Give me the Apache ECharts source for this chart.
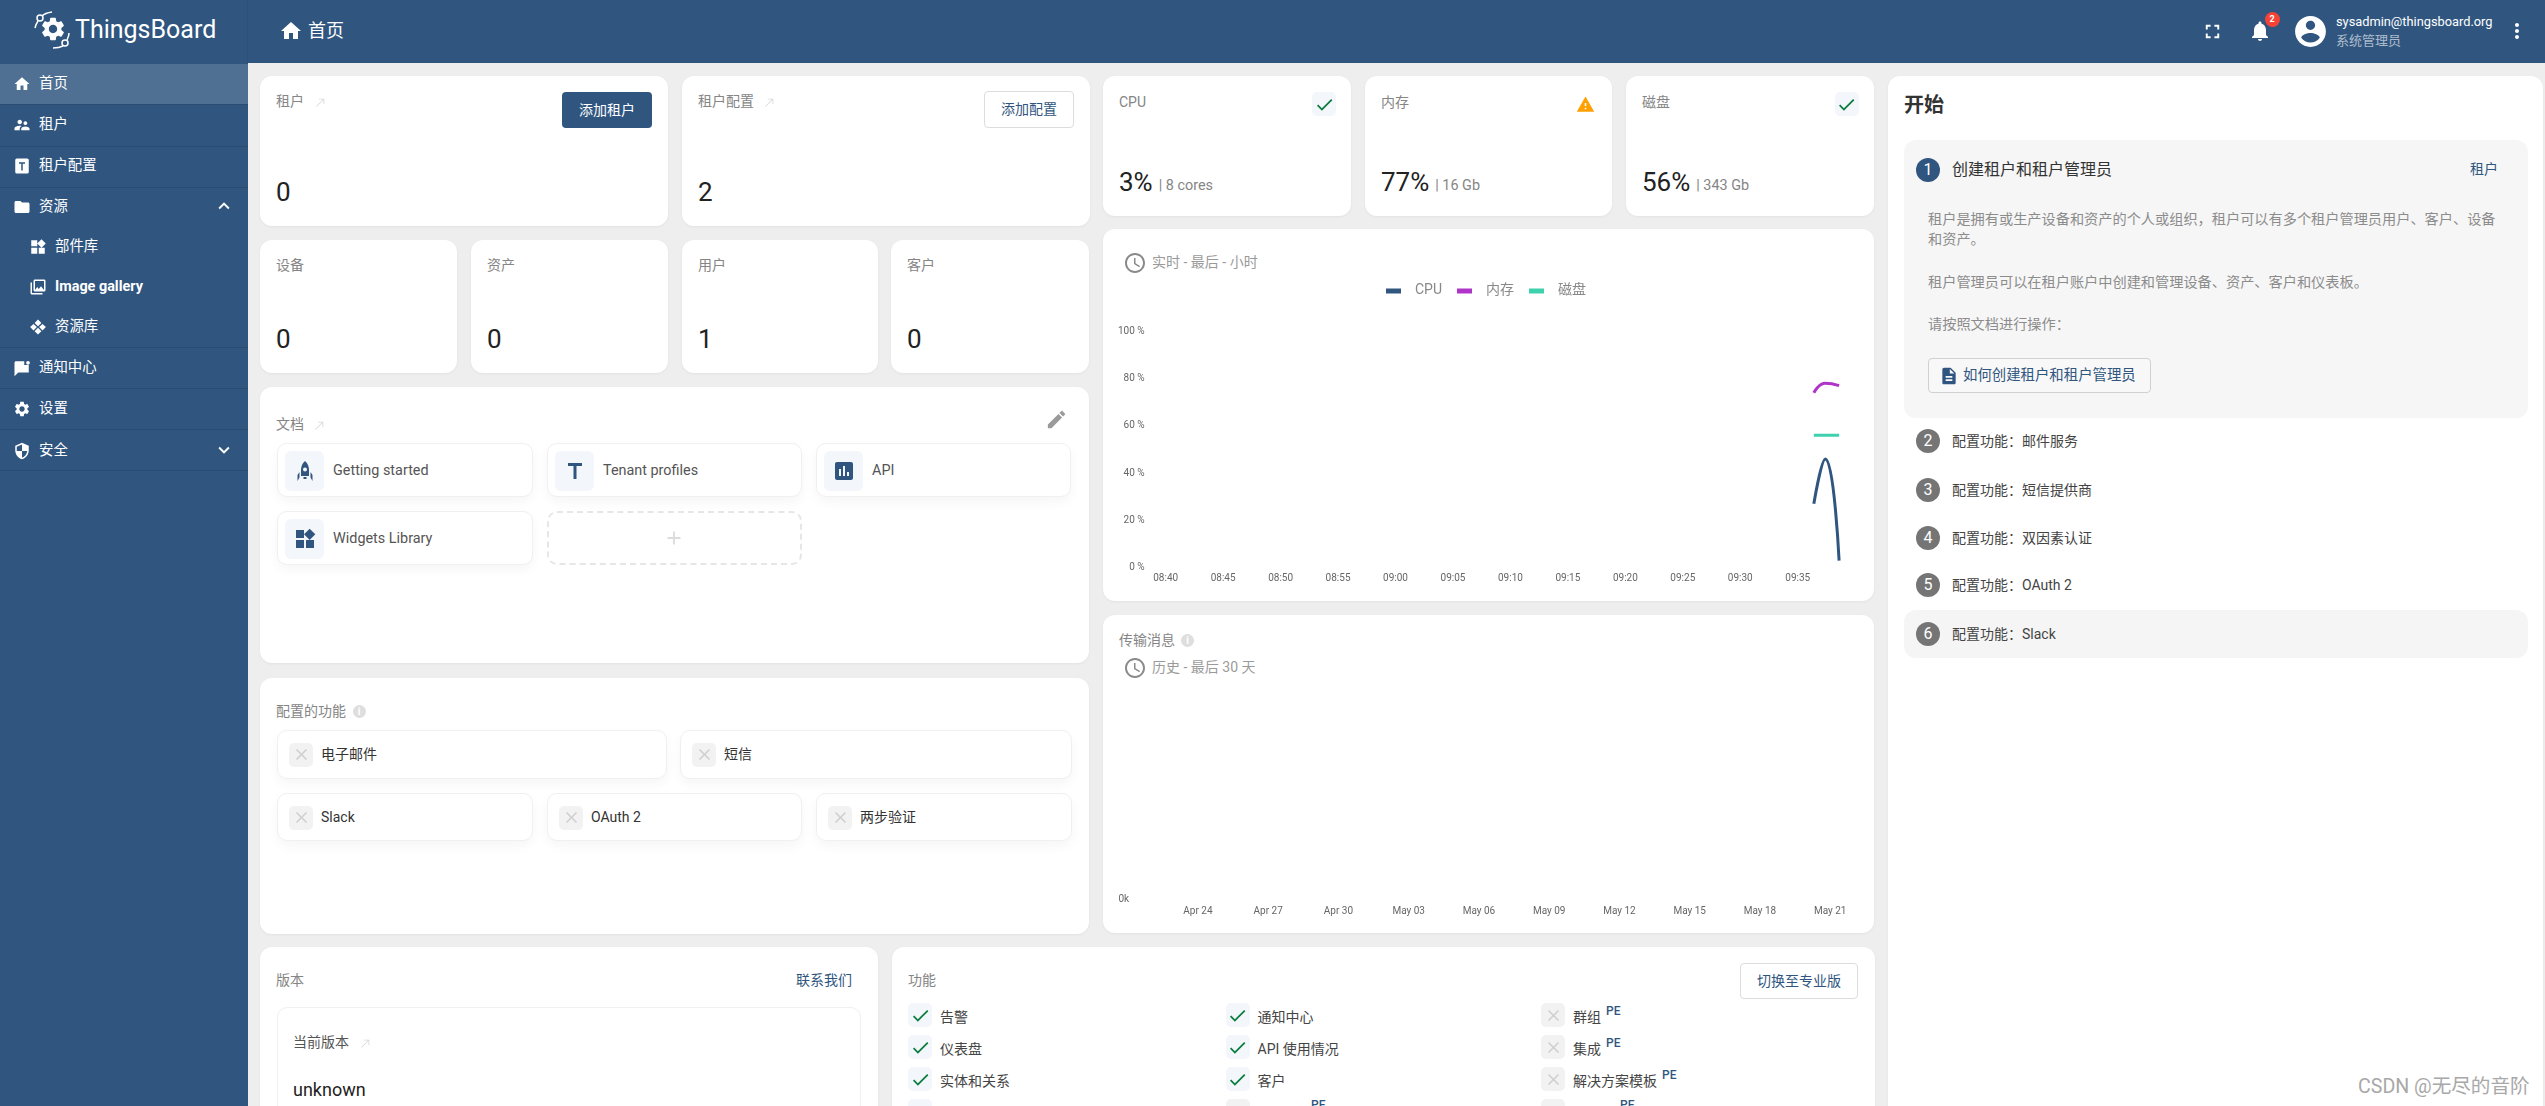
<!DOCTYPE html>
<html lang="zh">
<head>
    <meta charset="UTF-8">
    <title>ThingsBoard</title>
    <script src="https://cdn.jsdelivr.net/npm/echarts@6/dist/echarts.min.js"></script>
    <style>
        html, body { margin: 0; padding: 0; width: 2545px; height: 1106px; overflow: hidden; background: #eeeeee; }
        body { position: relative; font-family: Roboto, "Noto Sans CJK SC", sans-serif; font-size: 14px; color: #444; }
        .abs { position: absolute; box-sizing: border-box; }
        .txt { position: absolute; white-space: nowrap; transform: translateY(-50%); line-height: 1.2; }
        .card { background: #fff; border-radius: 12px; box-shadow: 0 1px 3px rgba(0,0,0,.05); }
        .link { background: #fff; border: 1px solid #f0f0f0; border-radius: 10px; box-shadow: 0 5px 12px rgba(0,0,0,.04); }
        svg { position: absolute; display: block; }
        #cpuChart, #msgChart { position: absolute; }
    </style>
</head>
<body>
<div id="page"></div>
<div id="cpuChart" style="left:1103px;top:229px;width:770.5px;height:372px;z-index:5"></div>
<div id="msgChart" style="left:1103px;top:615px;width:770.5px;height:318px;z-index:5"></div>

<script>
    // 系统资源折线图数据（最后一小时）
    var sampleTimes = ['09:36:24', '09:37:24', '09:38:36'];
    var cpuValues = [27, 46, 3];
    var memoryValues = [74, 78, 77];
    var diskValues = [56, 56, 56];
    var hourTickLabels = ['08:40', '08:45', '08:50', '08:55', '09:00', '09:05', '09:10', '09:15', '09:20', '09:25', '09:30', '09:35'];
    var percentTicks = [0, 20, 40, 60, 80, 100];

    // 传输消息（最后 30 天，图上没有数据）
    var messageValues = [];
    var dayTickDates = ['2024-04-24', '2024-04-27', '2024-04-30', '2024-05-03', '2024-05-06', '2024-05-09', '2024-05-12', '2024-05-15', '2024-05-18', '2024-05-21'];
    var dayTickLabels = ['Apr 24', 'Apr 27', 'Apr 30', 'May 03', 'May 06', 'May 09', 'May 12', 'May 15', 'May 18', 'May 21'];

    var PRIMARY = '#305680';
    var GREY = '#858585';
    var page = document.getElementById('page');

    var ICONS = {
        home: 'M10 20v-6h4v6h5v-8h3L12 3 2 12h3v8z',
        tenants: 'M16.5 12c1.38 0 2.49-1.12 2.49-2.5S17.88 7 16.5 7 14 8.12 14 9.5s1.12 2.5 2.5 2.5zM9 11c1.66 0 2.99-1.34 2.99-3S10.66 5 9 5 6 6.34 6 8s1.34 3 3 3zm7.5 3c-1.83 0-5.5.92-5.5 2.75V19h11v-2.25c0-1.83-3.67-2.75-5.5-2.75zM9 13c-2.33 0-7 1.17-7 3.5V19h7v-2.25c0-.85.33-2.34 2.37-3.47C10.5 13.1 9.66 13 9 13z',
        profile: 'M5 2h14a2 2 0 012 2v16a2 2 0 01-2 2H5a2 2 0 01-2-2V4a2 2 0 012-2zm3 5v2h3v9h2V9h3V7z',
        folder: 'M10 4H4c-1.1 0-1.99.9-1.99 2L2 18c0 1.1.9 2 2 2h16c1.1 0 2-.9 2-2V8c0-1.1-.9-2-2-2h-8l-2-2z',
        widgets: 'M13 13v8h8v-8h-8zM3 21h8v-8H3v8zM3 3v8h8V3H3zm13.66-1.31L11 7.34 16.66 13l5.66-5.66-5.66-5.65z',
        gallery: 'M22 16V4c0-1.1-.9-2-2-2H8c-1.1 0-2 .9-2 2v12c0 1.1.9 2 2 2h12c1.1 0 2-.9 2-2zm-2 0H8V4h12v12zm-9-4l2.03 2.71L16 11l4 5H8l3-4zM2 6v14c0 1.1.9 2 2 2h14v-2H4V6H2z',
        resources: 'M12 2l4.5 4.5L12 11 7.5 6.500zM6 8l4.500 4-4.500 4.500L1.500 12zM18 8l4.500 4-4.500 4.500-4.500-4.500zM12 13l4.500 4.500L12 22l-4.500-4.500z',
        notify: 'M4 3h11v5h6v10H7l-5 5V5c0-1.100.9-2 2-2zM20 2.500a2.500 2.500 0 110 5 2.500 2.500 0 010-5z',
        settings: 'M19.14 12.94c.04-.3.06-.61.06-.94 0-.32-.02-.64-.07-.94l2.03-1.58c.18-.14.23-.41.12-.61l-1.92-3.32c-.12-.22-.37-.29-.59-.22l-2.39.96c-.5-.38-1.03-.7-1.62-.94l-.36-2.54c-.04-.24-.24-.41-.48-.41h-3.84c-.24 0-.43.17-.47.41l-.36 2.54c-.59.24-1.13.57-1.62.94l-2.39-.96c-.22-.08-.47 0-.59.22L2.74 8.87c-.12.21-.08.47.12.61l2.03 1.58c-.05.3-.09.63-.09.94s.02.64.07.94l-2.03 1.58c-.18.14-.23.41-.12.61l1.92 3.32c.12.22.37.29.59.22l2.39-.96c.5.38 1.03.7 1.62.94l.36 2.54c.05.24.24.41.48.41h3.84c.24 0 .44-.17.47-.41l.36-2.54c.59-.24 1.13-.56 1.62-.94l2.39.96c.22.08.47 0 .59-.22l1.92-3.32c.12-.22.07-.47-.12-.61l-2.01-1.58zM12 15.6c-1.98 0-3.6-1.62-3.6-3.6s1.62-3.6 3.6-3.6 3.6 1.62 3.6 3.6-1.62 3.6-3.6 3.6z',
        shield: 'M12 1L3 5v6c0 5.55 3.84 10.74 9 12 5.16-1.26 9-6.45 9-12V5l-9-4zm0 10.99h7c-.53 4.12-3.28 7.79-7 8.94V12H5V6.3l7-3.11v8.8z',
        up: 'M7.41 15.41L12 10.83l4.59 4.58L18 14l-6-6-6 6z',
        down: 'M7.41 8.59L12 13.17l4.59-4.58L18 10l-6 6-6-6z',
        check: 'M9 16.17L4.83 12l-1.42 1.41L9 19 21 7l-1.41-1.41z',
        warning: 'M1 21h22L12 2 1 21zm12-3h-2v-2h2v2zm0-4h-2v-4h2v4z',
        close: 'M19 6.41L17.59 5 12 10.59 6.41 5 5 6.41 10.59 12 5 17.59 6.41 19 12 13.41 17.59 19 19 17.59 13.41 12z',
        clock: 'M11.99 2C6.47 2 2 6.48 2 12s4.47 10 9.99 10C17.52 22 22 17.52 22 12S17.52 2 11.99 2zM12 20c-4.42 0-8-3.58-8-8s3.58-8 8-8 8 3.58 8 8-3.58 8-8 8zm.5-13H11v6l5.25 3.15.75-1.23-4.5-2.67z',
        fullscreen: 'M7 14H5v5h5v-2H7v-3zm-2-4h2V7h3V5H5v5zm12 7h-3v2h5v-5h-2v3zM14 5v2h3v3h2V5h-5z',
        bell: 'M12 22c1.1 0 2-.9 2-2h-4c0 1.1.89 2 2 2zm6-6v-5c0-3.07-1.64-5.64-4.5-6.32V4c0-.83-.67-1.5-1.5-1.5s-1.5.67-1.5 1.5v.68C7.63 5.36 6 7.92 6 11v5l-2 2v1h16v-1l-2-2z',
        account: 'M12 2C6.48 2 2 6.48 2 12s4.48 10 10 10 10-4.48 10-10S17.52 2 12 2zm0 3c1.66 0 3 1.34 3 3s-1.34 3-3 3-3-1.34-3-3 1.34-3 3-3zm0 14.2c-2.5 0-4.71-1.28-6-3.22.03-1.99 4-3.08 6-3.08 1.99 0 5.97 1.09 6 3.08-1.29 1.94-3.5 3.22-6 3.22z',
        more: 'M12 8c1.1 0 2-.9 2-2s-.9-2-2-2-2 .9-2 2 .9 2 2 2zm0 2c-1.1 0-2 .9-2 2s.9 2 2 2 2-.9 2-2-.9-2-2-2zm0 6c-1.1 0-2 .9-2 2s.9 2 2 2 2-.9 2-2-.9-2-2-2z',
        edit: 'M3 17.25V21h3.75L17.81 9.94l-3.75-3.75L3 17.25zM20.71 7.04c.39-.39.39-1.02 0-1.41l-2.34-2.34c-.39-.39-1.02-.39-1.41 0l-1.83 1.83 3.75 3.75 1.83-1.83z',
        doc: 'M14 2H6c-1.1 0-1.99.9-1.99 2L4 20c0 1.1.89 2 1.99 2H18c1.1 0 2-.9 2-2V8l-6-6zm2 16H8v-2h8v2zm0-4H8v-2h8v2zm-3-5V3.5L18.5 9H13z',
        arrow: 'M9 5v1.500h7.440L4 18.940 5.060 20 17.500 7.560V15H19V5z',
        rocket: 'M12 2c3 2.500 4 6 4 9v6H8v-6c0-3 1-6.500 4-9zm0 6.500a2 2 0 100 4 2 2 0 000-4zM6.500 13v5.500L4.500 22v-6zM17.500 13v5.500l2 3.500v-6zM10.500 18h3v2h-3z',
        chart: 'M19 3H5c-1.1 0-2 .9-2 2v14c0 1.1.9 2 2 2h14c1.1 0 2-.9 2-2V5c0-1.1-.9-2-2-2zM9 17H7v-7h2v7zm4 0h-2V7h2v10zm4 0h-2v-4h2v4z',
        letterT: 'M5 4v3h5.500v13h3V7H19V4z',
        plus: 'M19 13h-6v6h-2v-6H5v-2h6V5h2v6h6v2z'
    };

    function box(x, y, w, h, css, cls) {
        var d = document.createElement('div');
        d.className = 'abs ' + (cls || '');
        d.style.cssText = 'left:' + x + 'px;top:' + y + 'px;width:' + w + 'px;height:' + h + 'px;' + (css || '');
        page.appendChild(d);
        return d;
    }
    function text(x, cy, str, css) {
        var d = document.createElement('div');
        d.className = 'txt';
        d.style.cssText = 'left:' + x + 'px;top:' + cy + 'px;' + (css || '');
        d.textContent = str;
        page.appendChild(d);
        return d;
    }
    function icon(cx, cy, size, name, color) {
        var s = document.createElementNS('http://www.w3.org/2000/svg', 'svg');
        s.setAttribute('viewBox', '0 0 24 24');
        s.setAttribute('width', size);
        s.setAttribute('height', size);
        s.style.left = (cx - size / 2) + 'px';
        s.style.top = (cy - size / 2) + 'px';
        s.style.zIndex = 3;
        var p = document.createElementNS('http://www.w3.org/2000/svg', 'path');
        p.setAttribute('d', ICONS[name]);
        p.setAttribute('fill', color);
        p.setAttribute('fill-rule', 'evenodd');
        s.appendChild(p);
        page.appendChild(s);
    }
    function button(x, y, w, h, label, filled) {
        var b = box(x, y, w, h, 'border-radius:4px;text-align:center;line-height:' + (h - (filled ? 0 : 2)) + 'px;' +
            (filled ? 'background:' + PRIMARY + ';color:#fff;' : 'background:#fff;border:1px solid #ddd;color:' + PRIMARY + ';'));
        b.textContent = label;
    }
    function infoBadge(cx, cy) {
        var b = box(cx - 6.500, cy - 6.500, 13, 13, 'border-radius:50%;background:#dedede;color:#fff;font-size:10px;line-height:13px;text-align:center;font-weight:700');
        b.textContent = 'i';
    }
    function tile(x, y, w, h, name, ok) {
        box(x, y, w, h, 'border-radius:5px;background:' + (ok ? '#f3f6fa' : '#f2f2f2'));
        icon(x + w / 2, y + h / 2, ok ? 21 : 19, ok ? 'check' : 'close', ok ? '#0a7d3e' : '#cfcfcf');
    }

    // 顶栏和侧边栏
    box(0, 0, 2545, 63, 'background:' + PRIMARY);
    box(0, 0, 248, 1106, 'background:' + PRIMARY);
    box(247, 0, 1, 63, 'background:rgba(0,0,0,.06)');
    icon(53, 29, 28, 'settings', '#fff');
    var logo = box(30, 8, 45, 45, '');
    logo.innerHTML = '<svg width="45" height="45" viewBox="0 0 45 45" fill="none" stroke="#fff" stroke-width="1.5" style="left:0;top:0">' +
        '<circle cx="10" cy="10" r="3"/><path d="M22 4Q15 5 12 8M8 13Q6 16 5 20"/>' +
        '<circle cx="35" cy="35" r="3"/><path d="M23 40Q29 40 33 38M37 32Q39 28 39 25"/></svg>';
    text(75, 30, 'ThingsBoard', 'color:#fff;font-size:25px');
    icon(291, 31, 24, 'home', '#fff');
    text(308, 31, '首页', 'color:#fff;font-size:18px');
    icon(2212, 31, 23, 'fullscreen', '#fff');
    icon(2260, 31, 24, 'bell', '#fff');
    var badge = box(2264.500, 11.500, 15, 15, 'border-radius:50%;background:#f44336;color:#fff;font-size:9px;font-weight:700;text-align:center;line-height:15px');
    badge.textContent = '2';
    icon(2310, 31, 37, 'account', '#fff');
    text(2336, 22, 'sysadmin@thingsboard.org', 'color:#fff;font-size:12.800px');
    text(2336, 41, '系统管理员', 'color:rgba(255,255,255,.62);font-size:13px');
    icon(2517, 31, 24, 'more', '#fff');

    box(0, 64, 248, 40, 'background:#4f7093');
    [104, 146, 187, 347, 388, 429, 470].forEach(function (y) {
        box(0, y, 248, 1, 'background:rgba(0,0,0,.1)');
    });
    [['home', '首页', 84], ['tenants', '租户', 125], ['profile', '租户配置', 166], ['folder', '资源', 207],
        ['notify', '通知中心', 368], ['settings', '设置', 409], ['shield', '安全', 451]].forEach(function (m) {
        icon(22, m[2], 18, m[0], '#fff');
        text(39, m[2], m[1], 'color:#fff;font-size:14.400px');
    });
    icon(224, 206, 22, 'up', '#fff');
    icon(224, 450, 22, 'down', '#fff');
    [['widgets', '部件库', 247, ''], ['gallery', 'Image gallery', 287, 'font-weight:700;'], ['resources', '资源库', 327, '']].forEach(function (m) {
        icon(38, m[2], 18, m[0], '#fff');
        text(55, m[2], m[1], m[3] + 'color:#fff;font-size:14.400px');
    });

    // 左列卡片
    function stat(x, y, w, h, title, value, arrow) {
        box(x, y, w, h, '', 'card');
        text(x + 16, y + 25, title, 'color:' + GREY);
        if (arrow) icon(x + 60, y + 26, 13, 'arrow', '#d8d8d8');
        text(x + 16, y + h - 33, value, 'font-size:26px;color:#222');
    }
    stat(260, 76, 408, 150, '租户', '0', true);
    stat(682, 76, 408, 150, '租户配置', '2', false);
    icon(769, 102, 13, 'arrow', '#d8d8d8');
    button(562, 92, 90, 36, '添加租户', true);
    button(984, 91, 90, 37, '添加配置', false);
    stat(260, 240, 197, 133, '设备', '0');
    stat(471, 240, 197, 133, '资产', '0');
    stat(682, 240, 196, 133, '用户', '1');
    stat(891, 240, 198, 133, '客户', '0');

    box(260, 387, 829, 276, '', 'card');
    text(276, 424, '文档', 'color:' + GREY);
    icon(319, 425, 13, 'arrow', '#d8d8d8');
    icon(1056, 419, 23, 'edit', '#9a9a9a');
    [[277, 443, 'rocket', 'Getting started'], [547, 443, 'letterT', 'Tenant profiles'], [816, 443, 'chart', 'API'], [277, 511, 'widgets', 'Widgets Library']].forEach(function (l) {
        box(l[0], l[1], l[0] === 277 ? 256 : 255, 54, '', 'link');
        box(l[0] + 8, l[1] + 8, 39, 40, 'background:#f3f6fa;border-radius:6px');
        icon(l[0] + 27.500, l[1] + 28, 24, l[2], PRIMARY);
        text(l[0] + 56, l[1] + 28, l[3], 'color:#555;font-size:14.400px');
    });
    box(547, 511, 255, 54, 'border:2px dashed #e6e6e6;border-radius:10px');
    icon(674, 538, 22, 'plus', '#dcdcdc');

    box(260, 678, 829, 256, '', 'card');
    text(276, 711, '配置的功能', 'color:' + GREY);
    infoBadge(359, 711);
    [[277, 730, 390, 49, '电子邮件'], [680, 730, 392, 49, '短信'], [277, 793, 256, 48, 'Slack'], [547, 793, 255, 48, 'OAuth 2'], [816, 793, 256, 48, '两步验证']].forEach(function (f) {
        box(f[0], f[1], f[2], f[3], '', 'link');
        tile(f[0] + 12, f[1] + 12.500, 24, 24, 'close', false);
        text(f[0] + 44, f[1] + 23.500, f[4], 'color:#333');
    });

    box(260, 947, 618, 170, '', 'card');
    text(276, 980, '版本', 'color:' + GREY);
    text(796, 980, '联系我们', 'color:' + PRIMARY);
    box(277, 1007, 584, 120, 'border:1px solid #f0f0f0;border-radius:10px');
    text(293, 1042, '当前版本', 'color:#555');
    icon(365, 1043, 13, 'arrow', '#d8d8d8');
    text(293, 1090, 'unknown', 'font-size:18px;color:#222');

    // 功能列表
    box(892, 947, 983, 170, '', 'card');
    text(908, 980, '功能', 'color:' + GREY);
    button(1740, 963, 118, 36, '切换至专业版', false);
    [[908, 1003, '告警', true], [908, 1035, '仪表盘', true], [908, 1067, '实体和关系', true],
        [1225.500, 1003, '通知中心', true], [1225.500, 1035, 'API 使用情况', true], [1225.500, 1067, '客户', true],
        [1541, 1003, '群组', false, 32], [1541, 1035, '集成', false, 32], [1541, 1067, '解决方案模板', false, 88]].forEach(function (r) {
        tile(r[0], r[1], 24, 24, 'check', r[3]);
        text(r[0] + 32, r[1] + 14, r[2], 'color:#444');
        if (r[4]) text(r[0] + 33 + r[4], r[1] + 8, 'PE', 'color:' + PRIMARY + ';font-size:12px;font-weight:500');
    });
    tile(908, 1099, 24, 24, 'check', true);
    tile(1225.500, 1099, 24, 24, 'close', false);
    tile(1541, 1099, 24, 24, 'close', false);
    text(1311, 1105, 'PE', 'color:' + PRIMARY + ';font-size:12px;font-weight:500');
    text(1620, 1105, 'PE', 'color:' + PRIMARY + ';font-size:12px;font-weight:500');

    // 中列卡片
    function gauge(x, w, title, value, unit, state) {
        box(x, 76, w, 140, '', 'card');
        text(x + 16, 102, title, 'color:' + GREY);
        var v = text(x + 16, 183, value, 'font-size:26px;color:#222');
        var vw = v.getBoundingClientRect().width;
        text(x + 16 + vw + 6, 186, unit, 'color:' + GREY + ';font-size:14.400px');
        if (state === 'ok') tile(x + w - 39, 92, 24, 24, 'check', true);
        else icon(x + w - 27, 104, 19, 'warning', '#ffa000');
    }
    gauge(1103, 248, 'CPU', '3%', '| 8 cores', 'ok');
    gauge(1365, 247, '内存', '77%', '| 16 Gb', 'warn');
    gauge(1626, 247.500, '磁盘', '56%', '| 343 Gb', 'ok');

    box(1103, 229, 770.500, 372, '', 'card');
    icon(1135, 263, 24, 'clock', '#8a8a8a');
    text(1152, 262, '实时 - 最后 - 小时', 'color:#9a9a9a');
    box(1103, 615, 770.500, 318, '', 'card');
    text(1119, 640, '传输消息', 'color:' + GREY);
    infoBadge(1187.500, 640);
    icon(1135, 668, 24, 'clock', '#8a8a8a');
    text(1152, 667, '历史 - 最后 30 天', 'color:#9a9a9a');

    // 右侧“开始”面板
    box(1888, 76, 655, 1060, '', 'card');
    text(1904, 105, '开始', 'font-size:20px;font-weight:700;color:#333');
    box(1904, 140, 624, 278, 'background:#f6f6f6;border-radius:12px');
    box(1904, 610, 624, 48, 'background:#f5f5f5;border-radius:12px');
    function step(cy, n, label, color, css) {
        var c = box(1916, cy - 12, 24, 24, 'border-radius:50%;color:#fff;text-align:center;font-size:16px;line-height:24px;background:' + color);
        c.textContent = n;
        text(1952, cy, label, css);
    }
    step(170, 1, '创建租户和租户管理员', PRIMARY, 'color:#333;font-size:16px');
    text(2470, 169, '租户', 'color:' + PRIMARY);
    text(1928, 220, '租户是拥有或生产设备和资产的个人或组织，租户可以有多个租户管理员用户、客户、设备', 'color:#8c8c8c;font-size:14.200px');
    text(1928, 240, '和资产。', 'color:#8c8c8c;font-size:14.200px');
    text(1928, 283, '租户管理员可以在租户账户中创建和管理设备、资产、客户和仪表板。', 'color:#8c8c8c;font-size:14.200px');
    text(1928, 325, '请按照文档进行操作：', 'color:#8c8c8c;font-size:14.200px');
    box(1928, 358, 223, 35, 'background:#f8f8f8;border:1px solid #d0d0d0;border-radius:4px');
    icon(1949, 376, 20, 'doc', PRIMARY);
    text(1963, 376, '如何创建租户和租户管理员', 'color:' + PRIMARY + ';font-size:14.400px');
    step(441, 2, '配置功能：邮件服务', '#757575', 'color:#444');
    step(490, 3, '配置功能：短信提供商', '#757575', 'color:#444');
    step(537.500, 4, '配置功能：双因素认证', '#757575', 'color:#444');
    step(585, 5, '配置功能：OAuth 2', '#757575', 'color:#444');
    step(633.500, 6, '配置功能：Slack', '#757575', 'color:#444');

    text(2358, 1087, 'CSDN @无尽的音阶', 'color:#a8a8a8;font-size:19.600px;z-index:9');

    // 最后一小时图表
    function hourTime(label) {
        return new Date('2024-05-22T' + (label.length === 5 ? label + ':00' : label)).getTime();
    }
    var hourTicks = hourTickLabels.map(hourTime);
    var sampleMs = sampleTimes.map(hourTime);
    function pairs(values) {
        return values.map(function (v, i) { return [sampleMs[i], v]; });
    }
    var tickStyle = { fontFamily: 'Roboto, "Noto Sans CJK SC", sans-serif', fontSize: 10, color: '#666' };

    var cpuChart = echarts.init(document.getElementById('cpuChart'));
    cpuChart.setOption({
        animation: false,
        legend: {
            left: 278, top: 50, icon: 'rect', itemWidth: 15, itemHeight: 5, itemGap: 15,
            textStyle: { fontFamily: tickStyle.fontFamily, fontSize: 14, color: '#888', padding: [0, 0, 0, 9] }
        },
        grid: { left: 46.6, right: 34.9, top: 102.3, bottom: 33.3 },
        xAxis: {
            type: 'value',
            min: hourTime('08:38:36'),
            max: hourTime('09:38:36'),
            axisLine: { show: false },
            axisTick: { show: false },
            splitLine: { show: false },
            axisLabel: Object.assign({}, tickStyle, {
                margin: 6,
                customValues: hourTicks,
                hideOverlap: false,
                formatter: function (value) {
                    return hourTickLabels[hourTicks.indexOf(value)];
                }
            })
        },
        yAxis: {
            type: 'value',
            min: percentTicks[0],
            max: percentTicks[percentTicks.length - 1],
            interval: percentTicks[1] - percentTicks[0],
            axisLine: { show: false },
            axisTick: { show: false },
            splitLine: { show: false },
            axisLabel: Object.assign({}, tickStyle, { margin: 5, formatter: '{value} %' })
        },
        series: [
            { name: 'CPU', type: 'line', smooth: 0.5, showSymbol: false, data: pairs(cpuValues), itemStyle: { color: '#305680' }, lineStyle: { width: 3, color: '#305680' } },
            { name: '内存', type: 'line', smooth: 0.5, showSymbol: false, data: pairs(memoryValues), itemStyle: { color: '#af35c9' }, lineStyle: { width: 3, color: '#af35c9' } },
            { name: '磁盘', type: 'line', smooth: 0.5, showSymbol: false, data: pairs(diskValues), itemStyle: { color: '#3ed1ad' }, lineStyle: { width: 3, color: '#3ed1ad' } }
        ]
    });

    // 传输消息图表
    var dayTicks = dayTickDates.map(function (d) { return new Date(d + 'T00:00:00').getTime(); });
    var msgChart = echarts.init(document.getElementById('msgChart'));
    msgChart.setOption({
        animation: false,
        grid: { left: 33.6, right: 34.9, top: 80, bottom: 33.3 },
        xAxis: {
            type: 'value',
            min: new Date('2024-04-21T09:07:00').getTime(),
            max: new Date('2024-05-21T09:07:00').getTime(),
            axisLine: { show: false },
            axisTick: { show: false },
            splitLine: { show: false },
            axisLabel: Object.assign({}, tickStyle, {
                margin: 7,
                customValues: dayTicks,
                hideOverlap: false,
                formatter: function (value) {
                    return dayTickLabels[dayTicks.indexOf(value)];
                }
            })
        },
        yAxis: {
            type: 'value',
            min: 0,
            max: 1000,
            axisLine: { show: false },
            axisTick: { show: false },
            splitLine: { show: false },
            axisLabel: Object.assign({}, tickStyle, {
                margin: 7.5,
                customValues: [0],
                formatter: function (value) { return (value / 1000) + 'k'; }
            })
        },
        series: [{ name: '传输消息', type: 'line', showSymbol: false, data: messageValues }]
    });
</script>
</body>
</html>
